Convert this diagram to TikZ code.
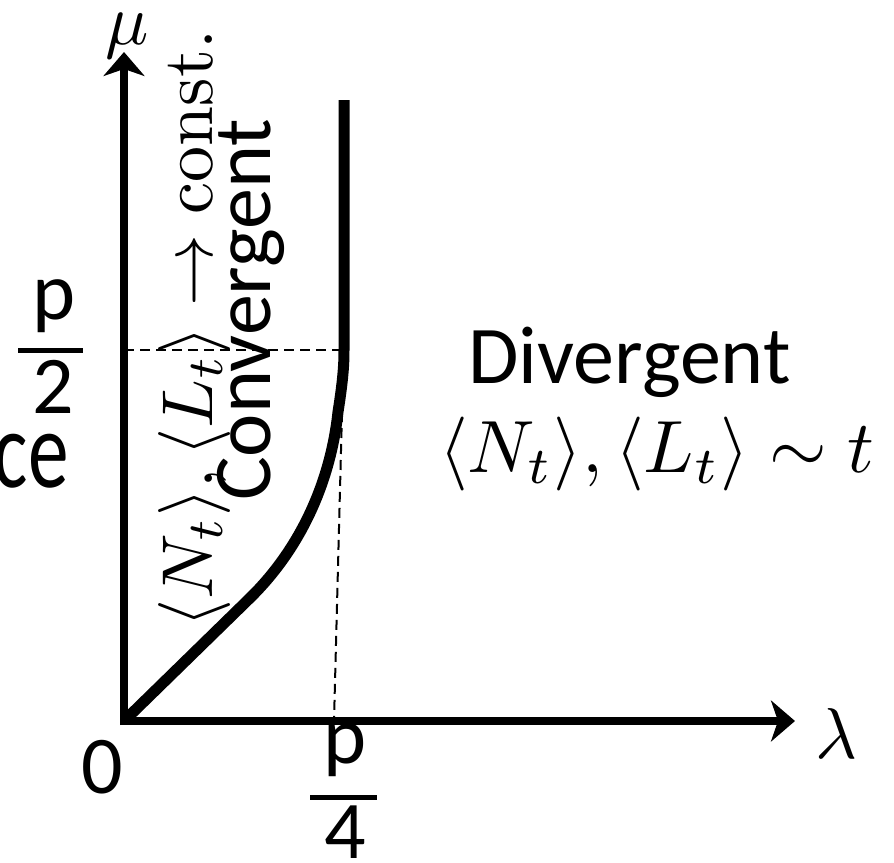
\documentclass[tikz,border=0pt]{standalone}
\usepackage{graphicx}
\usepackage{fontspec}
\newfontfamily\calfont{Carlito}
\usetikzlibrary{arrows.meta}
\newcommand{\hugemath}[2][7.2]{\scalebox{#1}{$#2$}}
\begin{document}
\begin{tikzpicture}[x=1pt,y=-1pt,
  axis/.style={line width=8pt, -{Stealth[length=24pt,width=41pt,inset=7pt]}},
  curve/.style={line width=11pt, line join=round},
  guide/.style={line width=2pt, dash pattern=on 10pt off 6pt},
  fbar/.style={line width=5pt},
  cal/.style={font=\calfont\fontsize{82}{90}\selectfont, inner sep=0pt},
  mth/.style={inner sep=0pt}]
\useasboundingbox (0,0) rectangle (894,862);
% key points
\coordinate (O) at (124,721);
\coordinate (Ostart) at (120,721);
\coordinate (Ybot) at (124,725);
\coordinate (Ytop) at (124,52);
\coordinate (Xend) at (795,721);
\coordinate (Ymid) at (124,350);
\coordinate (Pmid) at (344,350);
\coordinate (Pq) at (342,412);
\coordinate (Q) at (334,721);
% axes
\draw[axis] (Ostart) -- (Xend);
\draw[axis] (Ybot) -- (Ytop);
% guides
\draw[guide] (Ymid) -- (Pmid);
\draw[guide] (Pq) -- (Q);
% boundary curve
\draw[curve] (O) -- (250,598) .. controls (303,546) and (331,478) .. (338,412)
  .. controls (343,380) and (344,365) .. (Pmid) -- (344,100);
% axis labels
\node[mth, anchor=base] (mu) at (127,44) {\hugemath{\mu}};
\node[mth, anchor=base west] (lam) at (815,758) {\hugemath{\lambda}};
\node[cal, anchor=base] (zero) at (102,793) {0};
% p/2
\node[cal, anchor=base] (p2n) at (54,319) {p};
\coordinate (b2a) at (18,350);
\coordinate (b2b) at (83,350);
\draw[fbar] (b2a) -- (b2b);
\node[cal, anchor=base] (p2d) at (53,413) {2};
\node[cal, anchor=base east, font=\calfont\fontsize{110}{120}\selectfont] (ce) at (69,487) {\scalebox{0.74}[1]{ce}};
% p/4
\node[cal, anchor=base] (p4n) at (345,763) {p};
\coordinate (b4a) at (310,797);
\coordinate (b4b) at (377,797);
\draw[fbar] (b4a) -- (b4b);
\node[cal, anchor=base] (p4d) at (345,858) {4};
% regions
\node[cal, anchor=base west, font=\calfont\fontsize{82}{90}\selectfont] (div) at (468,383) {Divergent};
\node[mth, anchor=base west] (divm) at (439,472) {\hugemath[7.4]{\langle N_t\rangle,\langle L_t\rangle\sim t}};
\node[mth, anchor=base west, rotate=90] (convm) at (212,628) {\hugemath{\langle N_t\rangle,\langle L_t\rangle\rightarrow\mathrm{const.}}};
\node[cal, anchor=base west, rotate=90] (conv) at (270,501) {Convergent};
\end{tikzpicture}
\end{document}
